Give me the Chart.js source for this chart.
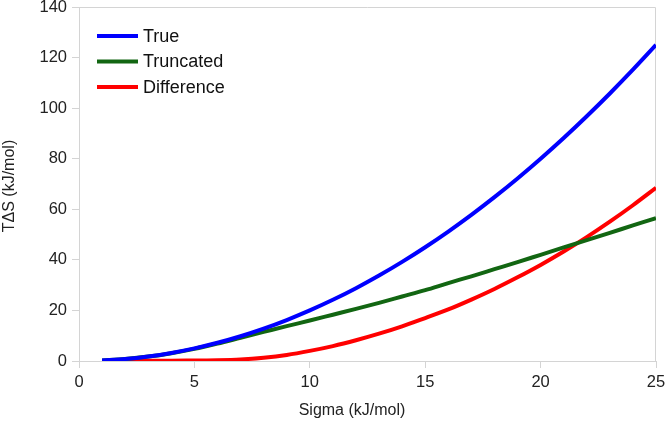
<!DOCTYPE html>
<html>
<head>
<meta charset="utf-8">
<script src="https://cdn.jsdelivr.net/npm/chart.js@4/dist/chart.umd.min.js"></script>
<style>
html,body{margin:0;padding:0;background:#fff;}
#wrap{width:666px;height:428px;position:relative;}
</style>
</head>
<body>
<div id="wrap"><canvas id="c" width="666" height="428"></canvas></div>
<script>
const sigma = [1,2,3,4,5,6,7,8,9,10,11,12,13,14,15,16,17,18,19,20,21,22,23,24,25];
const trueVals = [0.2,0.8,1.8,3.2,5,7.2,9.8,12.8,16.2,20,24.2,28.8,33.8,39.2,45,51.2,57.8,64.8,72.2,80,88.2,96.8,105.8,115.2,125];
const truncVals = [0.2,0.8,1.75,3.1,4.8,6.9,9.2,11.5,13.8,16,18.3,20.6,23,25.5,28,30.8,33.5,36.3,39.1,42,44.9,47.8,50.7,53.6,56.5];
const diffVals = [0,0,0.05,0.1,0.2,0.3,0.6,1.3,2.4,4,5.9,8.2,10.8,13.7,17,20.4,24.3,28.5,33.1,38,43.3,49,55.1,61.6,68.5];
const seriesNames = ['True','Truncated','Difference'];
const seriesColors = ['#0000ff','#126612','#ff0000'];
const xTicks = [0,5,10,15,20,25];
const yTicks = [0,20,40,60,80,100,120,140];
const xTitle = 'Sigma (kJ/mol)';
const yTitle = 'TΔS (kJ/mol)';

const FONT = '"Liberation Sans", Arial, sans-serif';

function pts(vals){ return sigma.map((s,i)=>({x:s,y:vals[i]})); }

const frame = {
  id:'frame',
  beforeDatasetsDraw(chart){
    const {ctx, chartArea:a} = chart;
    ctx.save();
    ctx.strokeStyle='#d4d4d4';
    ctx.lineWidth=1;
    ctx.beginPath();
    ctx.moveTo(a.left, a.top+0.5);
    ctx.lineTo(a.right-0.5, a.top+0.5);
    ctx.lineTo(a.right-0.5, a.bottom);
    ctx.stroke();
    ctx.restore();
  },
  afterDraw(chart){
    const {ctx} = chart;
    ctx.save();
    ctx.font = '18px ' + FONT;
    ctx.textBaseline='middle';
    const ys=[36,61.5,87];
    chart.data.datasets.forEach((d,i)=>{
      ctx.strokeStyle=d.borderColor;
      ctx.lineWidth=4;
      ctx.beginPath();
      ctx.moveTo(97,ys[i]);ctx.lineTo(138,ys[i]);
      ctx.stroke();
      ctx.fillStyle='#111';
      ctx.fillText(d.label,143,ys[i]+1);
    });
    // axis titles
    ctx.fillStyle='#222';
    ctx.font = '16px ' + FONT;
    ctx.textAlign='center';
    ctx.fillText(xTitle, 352, 411);
    ctx.translate(10, 186);
    ctx.rotate(-Math.PI/2);
    ctx.fillText(yTitle, 0, 0);
    ctx.restore();
  }
};

new Chart(document.getElementById('c'),{
  type:'line',
  data:{
    datasets: seriesNames.map((n,i)=>({
      label:n,
      data: pts([trueVals,truncVals,diffVals][i]),
      borderColor: seriesColors[i],
      backgroundColor: seriesColors[i],
      borderWidth:4,
      pointRadius:0,
      cubicInterpolationMode:'monotone',
      fill:false
    }))
  },
  options:{
    responsive:false,
    animation:false,
    events:[],
    layout:{padding:{left:0,right:10,top:7,bottom:0}},
    plugins:{legend:{display:false},tooltip:{enabled:false}},
    scales:{
      x:{
        type:'linear',min:0,max:25,
        afterBuildTicks(s){ s.ticks = xTicks.map(v=>({value:v})); },
        afterFit(s){ s.height = 67; s.paddingLeft=0; s.paddingRight=0; },
        grid:{display:true,drawOnChartArea:false,drawTicks:true,tickLength:7,color:'#d4d4d4'},
        border:{display:true,color:'#d4d4d4'},
        ticks:{color:'#222',font:{family:FONT,size:16.5},padding:5,maxRotation:0},
        title:{display:false}
      },
      y:{
        min:0,max:140,
        afterBuildTicks(s){ s.ticks = yTicks.map(v=>({value:v})); },
        afterFit(s){ s.width = 79; s.paddingTop=0; s.paddingBottom=0; },
        grid:{display:true,drawOnChartArea:false,drawTicks:true,tickLength:7,color:'#d4d4d4'},
        border:{display:true,color:'#d4d4d4'},
        ticks:{color:'#222',font:{family:FONT,size:16.5},padding:5},
        title:{display:false}
      }
    }
  },
  plugins:[frame]
});
</script>
</body>
</html>
